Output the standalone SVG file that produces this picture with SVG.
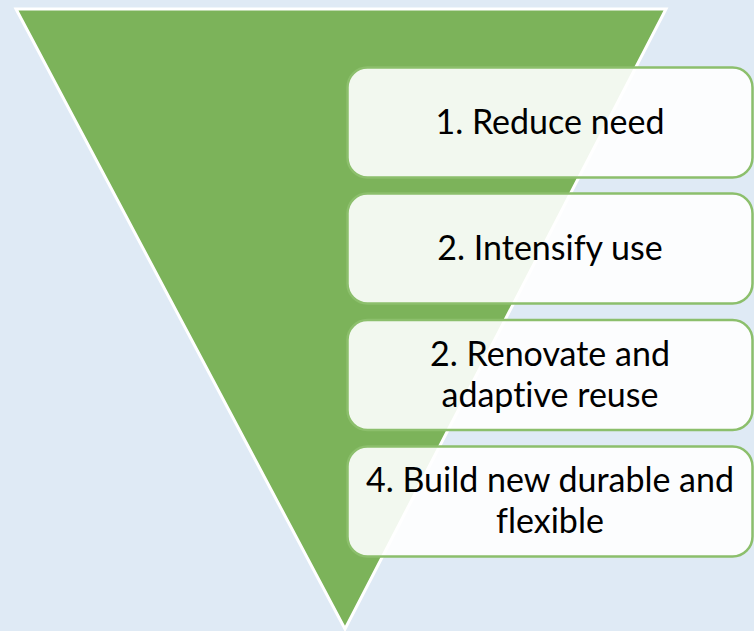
<svg xmlns="http://www.w3.org/2000/svg" width="754" height="631" viewBox="0 0 754 631">
<style>
.box{fill:#ffffff;fill-opacity:0.9;stroke:#8cbf6c;stroke-width:2.5}
.t{font-family:Lato,"Open Sans","Liberation Sans",sans-serif;font-size:34px;fill:#000;text-anchor:middle;font-variant-ligatures:none}
</style>
<rect x="0" y="0" width="754" height="631" fill="#dfeaf5"/>
<g id="funnel">
<polygon points="16,9 666,9 345,629" fill="#7cb35a" stroke="#ffffff" stroke-width="3"/>
</g>
<g id="connectors"></g>
<g id="step1">
<rect class="box" x="347.5" y="67.5" width="405" height="110" rx="20"/>
<text class="t" x="550" y="134">1. Reduce need</text>
</g>
<g id="step2">
<rect class="box" x="347.5" y="193.5" width="405" height="110" rx="20"/>
<text class="t" x="550" y="260">2. Intensify use</text>
</g>
<g id="step3">
<rect class="box" x="347.5" y="320" width="405" height="110" rx="20"/>
<text class="t" x="550" y="366">2. Renovate and</text>
<text class="t" x="550" y="407">adaptive reuse</text>
</g>
<g id="step4">
<rect class="box" x="347.5" y="446.5" width="405" height="110" rx="20"/>
<text class="t" x="550" y="492">4. Build new durable and</text>
<text class="t" x="550" y="533">flexible</text>
</g>
</svg>
